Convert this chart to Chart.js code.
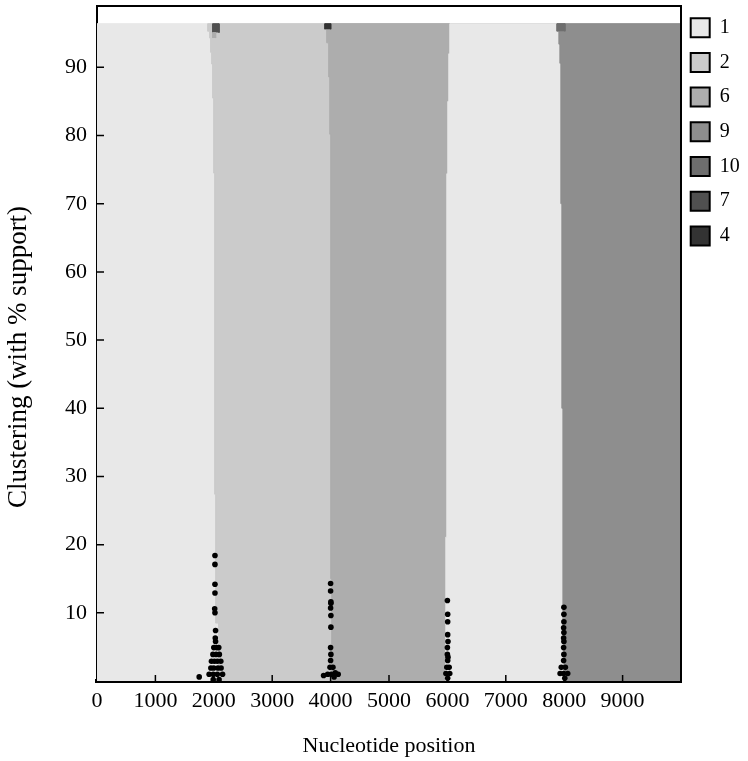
<!DOCTYPE html>
<html>
<head>
<meta charset="utf-8">
<script src="https://cdn.jsdelivr.net/npm/chart.js@4.4.1/dist/chart.umd.min.js"></script>
<style>
  body { margin: 0; background: #fff; }
</style>
</head>
<body>
<canvas id="clusterChart" width="748" height="761"></canvas>
<script>
  // clusters as listed in the legend
  const clusterNames = ['1', '2', '6', '9', '10', '7', '4']
  const clusterColors = ['#e8e8e8', '#cbcbcb', '#adadad', '#8e8e8e', '#6e6e6e', '#505050', '#333333']

  // regions left to right, each one starts at its left boundary (x per support level)
  const regionClusters = ['1', '2', '6', '1', '9']
  const topLevel = 96.4
  const bound0X = [0]
  const bound0Y = [0]
  const bound1X = [2082, 2031, 2014, 1997, 1979, 1962, 1945, 1928, 1894]
  const bound1Y = [0, 8.5, 27.4, 74.5, 85.5, 90.5, 92.2, 94.3, 95.3]
  const bound2X = [4019, 4002, 3985, 3967, 3933, 3899]
  const bound2Y = [0, 15, 80.2, 88.6, 93.6, 95.6]
  const bound3X = [5973, 5990, 6007, 6024, 6041]
  const bound3Y = [0, 21.1, 74.4, 85, 92]
  const bound4X = [7995, 7978, 7960, 7943, 7926, 7909, 7875]
  const bound4Y = [0, 8, 40, 70, 90.6, 93.4, 95.3]

  // small cells at the top
  const cellClusters = ['7', '6', '4', '10']
  const cellX0 = [1979, 1979, 3899, 7875]
  const cellX1 = [2090, 2031, 4002, 8012]
  const cellY0 = [95.1, 94.3, 95.6, 95.3]
  const cellY1 = [96.4, 95.1, 96.4, 96.4]

  // breakpoints (black dots)
  const dotX = [
    2020, 2020, 2020, 2020, 2015, 2020, 2030, 2025, 2030,
    2000, 2050, 2085, 1985, 2040, 2095, 1960, 2010, 2060, 2120,
    1950, 2000, 2070, 2125, 1920, 1990, 2060, 2150, 1750, 1990, 2090,
    4000, 4000, 4005, 4005, 4000, 4005, 4005, 4000, 4005, 4000,
    3990, 4040, 3950, 4010, 4080, 4130, 4060, 3880,
    6000, 6005, 6005, 6005, 6010, 6000, 6000, 6010, 6005, 5990, 6030, 5975, 6040, 6005,
    7995, 7995, 7995, 7990, 7995, 7990, 7995, 7990, 7995, 7990,
    7950, 8020, 7930, 7990, 8060, 8010
  ]
  const dotY = [
    18.4, 17.1, 14.2, 12.9, 10.6, 10.0, 7.4, 6.3, 5.8,
    4.9, 4.9, 4.9, 3.9, 3.9, 3.9, 2.9, 2.9, 2.9, 2.9,
    1.9, 1.9, 1.9, 1.9, 1.0, 1.0, 1.0, 1.0, 0.6, 0.2, 0.2,
    14.3, 13.2, 11.6, 11.4, 10.7, 9.6, 7.9, 4.9, 3.9, 3.0,
    2.0, 2.0, 1.0, 1.0, 1.2, 1.0, 0.6, 0.8,
    11.8, 9.8, 8.7, 6.8, 5.8, 4.9, 3.9, 3.5, 3.0, 2.0, 2.0, 1.1, 1.1, 0.4,
    10.8, 9.8, 8.7, 7.8, 7.1, 6.3, 5.8, 4.9, 3.9, 3.0,
    2.0, 2.0, 1.1, 1.1, 1.1, 0.4
  ]

  const xMax = 10000
  const yMax = 99

  function colorOf(name) {
    return clusterColors[clusterNames.indexOf(name)]
  }

  const bounds = [[bound0X, bound0Y], [bound1X, bound1Y], [bound2X, bound2Y], [bound3X, bound3Y], [bound4X, bound4Y]]

  let datasets = []

  // each region is filled from its left boundary to the right edge, later ones on top
  bounds.forEach((b, i) => {
    let pts = b[0].map((x, k) => ({ x: x, y: b[1][k] }))
    pts.push({ x: b[0][b[0].length - 1], y: topLevel })
    pts.push({ x: xMax, y: topLevel })
    pts.push({ x: xMax, y: 0 })
    datasets.push({
      data: pts,
      showLine: true,
      stepped: 'after',
      fill: 'shape',
      backgroundColor: colorOf(regionClusters[i]),
      borderColor: colorOf(regionClusters[i]),
      borderWidth: 1,
      pointRadius: 0,
      order: 20 - i
    })
  })

  cellClusters.forEach((c, i) => {
    datasets.push({
      data: [
        { x: cellX0[i], y: cellY0[i] },
        { x: cellX0[i], y: cellY1[i] },
        { x: cellX1[i], y: cellY1[i] },
        { x: cellX1[i], y: cellY0[i] }
      ],
      showLine: true,
      fill: 'shape',
      backgroundColor: colorOf(c),
      borderColor: colorOf(c),
      borderWidth: 1,
      pointRadius: 0,
      order: 10 - i
    })
  })

  datasets.push({
    data: dotX.map((x, k) => ({ x: x, y: dotY[k] })),
    pointRadius: 2.8,
    pointBorderWidth: 0,
    pointBackgroundColor: '#000',
    order: 0
  })

  // frame on top/right and inward tick marks
  const frame = {
    id: 'frame',
    afterDraw(chart) {
      const { ctx, chartArea: a, scales: { x, y } } = chart
      ctx.save()
      ctx.strokeStyle = '#000'
      ctx.lineWidth = 2
      ctx.beginPath()
      ctx.moveTo(a.left, a.top)
      ctx.lineTo(a.right, a.top)
      ctx.lineTo(a.right, a.bottom)
      ctx.stroke()
      ctx.lineWidth = 1.5
      ctx.beginPath()
      x.ticks.forEach(t => {
        if (t.value > 0 && t.value < xMax) {
          let px = x.getPixelForValue(t.value)
          ctx.moveTo(px, a.bottom)
          ctx.lineTo(px, a.bottom - 6)
        }
      })
      y.ticks.forEach(t => {
        if (t.value > 0 && t.value % 10 == 0) {
          let py = y.getPixelForValue(t.value)
          ctx.moveTo(a.left, py)
          ctx.lineTo(a.left + 7, py)
        }
      })
      ctx.stroke()
      ctx.restore()
    }
  }

  // legend sits a bit left of where chart.js puts it
  const nudgeLegend = {
    id: 'nudgeLegend',
    afterLayout(chart) {
      chart.legend.left -= 5
      chart.legend.top -= 3
    }
  }

  Chart.defaults.font.family = "'Liberation Serif', 'Times New Roman', serif"
  Chart.defaults.font.size = 22
  Chart.defaults.color = '#000'

  let ctx = document.getElementById('clusterChart').getContext('2d')

  let clusterChart = new Chart(ctx, {
    type: 'scatter',
    data: { datasets: datasets },
    options: {
      responsive: false,
      animation: false,
      layout: { padding: { top: 6 } },
      scales: {
        x: {
          type: 'linear',
          min: 0,
          max: xMax,
          ticks: {
            stepSize: 1000,
            padding: 7,
            maxRotation: 0,
            autoSkip: false,
            callback: v => v < xMax ? String(v) : ''
          },
          grid: { drawOnChartArea: false, drawTicks: false },
          border: { color: '#000', width: 4 },
          title: { display: true, text: 'Nucleotide position', padding: { top: 0, bottom: 2 } },
          afterFit: s => { s.height = 80 }
        },
        y: {
          type: 'linear',
          min: 0,
          max: yMax,
          ticks: {
            stepSize: 10,
            padding: 10,
            callback: v => (v > 0 && v % 10 == 0) ? String(v) : ''
          },
          grid: { drawOnChartArea: false, drawTicks: false },
          border: { color: '#000', width: 2 },
          title: {
            display: true,
            text: 'Clustering (with % support)    ',
            font: { size: 27 },
            padding: { top: 3, bottom: 0 }
          },
          afterFit: s => {
            s.width = 97
            s.paddingTop = 0
            s.paddingBottom = 0
          }
        }
      },
      plugins: {
        tooltip: { enabled: false },
        legend: {
          position: 'right',
          align: 'start',
          maxWidth: 67,
          onClick: null,
          labels: {
            font: { size: 20 },
            boxWidth: 19,
            boxHeight: 19,
            padding: 14.7,
            generateLabels: () => clusterNames.map((n, i) => ({
              text: n,
              fillStyle: clusterColors[i],
              strokeStyle: '#000',
              lineWidth: 2,
              hidden: false,
              fontColor: '#000'
            }))
          }
        }
      }
    },
    plugins: [frame, nudgeLegend]
  })
</script>
</body>
</html>
